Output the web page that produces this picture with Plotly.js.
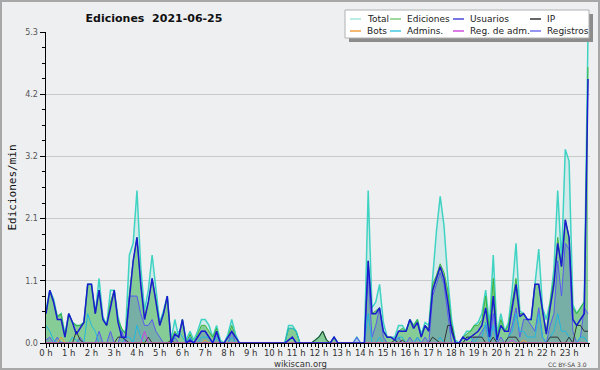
<!DOCTYPE html>
<html><head><meta charset="utf-8">
<script src="https://cdn.plot.ly/plotly-3.0.1.min.js"></script>
<style>html,body{margin:0;padding:0;background:#eeeff1;}#chart{width:600px;height:370px;}</style>
</head><body><div id="chart"></div>
<script>
// Edits per minute, one value per 10 minutes (6 per hour), 2021-06-25
const TITLE = 'Ediciones\u00a0\u00a02021-06-25';
const Y_TITLE = 'Ediciones/min';
const HOUR_LABELS = ['0 h','1 h','2 h','3 h','4 h','5 h','6 h','7 h','8 h','9 h','10 h','11 h','12 h','13 h','14 h','15 h','16 h','17 h','18 h','19 h','20 h','21 h','22 h','23 h'];
const Y_TICKS = [0, 1.06, 2.12, 3.18, 4.24, 5.3];
const Y_TICK_LABELS = ['0.0','1.1','2.1','3.2','4.2','5.3'];
const SERIES_NAMES = ['Total','Ediciones','Usuarios','IP','Bots','Admins.','Reg. de adm.','Registros'];

const total = [
 0.55,0.9,0.75,0.45,0.5,0.15,  0.5,0.35,0.3,0.3,0.35,1.0,  1.0,0.5,1.1,0.45,0.3,0.9,  0.9,0.45,0.2,0.2,1.5,1.7,
 2.6,1.3,0.55,0.9,1.5,0.95,  0.35,0.55,0.8,0.05,0.4,0.1,  0.4,0.05,0.2,0.05,0.2,0.4,  0.4,0.3,0.1,0.3,0.05,0,
 0.15,0.4,0.15,0,0,0,  0,0,0,0,0,0,  0,0,0,0,0.3,0.3,  0.2,0,0,0,0,0.05,
 0.1,0.2,0.05,0,0.1,0,  0,0,0,0,0.1,0,  0,2.6,0.6,0.7,1.0,0.35,  0.1,0.1,0.1,0.3,0.3,0.2,
 0.4,0.3,0.4,0.15,0.35,0.3,  1.1,1.9,2.5,2.0,1.1,0.4,  0.05,0,0.1,0.2,0.2,0.3,  0.35,0.5,0.9,0.3,1.5,0.15,
 0.5,0.2,0.35,0.9,1.7,0.55,  0.5,0.4,0.4,1.0,1.6,0.6,  0.4,0.7,1.25,2.6,1.4,3.3,  3.1,0.65,0.5,0.6,0.7,5.3];
const ediciones = [
 0.5,0.9,0.7,0.45,0.5,0.1,  0.5,0.35,0.3,0.3,0.35,1.0,  1.0,0.5,0.9,0.4,0.3,0.7,  0.9,0.4,0.25,0.15,0.85,1.4,
 1.8,1.0,0.45,0.7,1.1,0.75,  0.3,0.5,0.8,0.05,0.2,0.1,  0.4,0,0.15,0,0.15,0.3,  0.3,0.2,0.1,0.25,0,0,
 0.1,0.3,0.1,0,0,0,  0,0,0,0,0,0,  0,0,0,0,0.25,0.25,  0.2,0,0,0,0,0.05,
 0.1,0.2,0.05,0,0.1,0,  0,0,0,0,0,0,  0,1.4,0.5,0.55,0.6,0.2,  0.1,0.1,0.05,0.2,0.25,0.2,
 0.4,0.3,0.4,0.1,0.3,0.25,  1.0,1.15,1.35,1.2,0.9,0.3,  0,0,0.1,0.15,0.2,0.3,  0.3,0.4,0.8,0.2,1.1,0.1,
 0.4,0.2,0.3,0.7,1.1,0.5,  0.5,0.4,0.4,1.0,1.0,0.55,  0.2,0.7,1.1,1.8,1.3,2.1,  1.8,0.6,0.5,0.6,0.7,4.7];
const usuarios = [
 0.5,0.9,0.7,0.4,0.4,0.1,  0.5,0.35,0.15,0.25,0.35,1.0,  1.0,0.5,0.9,0.4,0.3,0.6,  0.9,0.35,0.1,0.1,0.8,1.4,
 1.8,1.0,0.4,0.7,1.1,0.7,  0.3,0.5,0.8,0,0.15,0.1,  0.4,0,0.05,0,0.1,0.2,  0.2,0.1,0,0.2,0,0,
 0.1,0.2,0.1,0,0,0,  0,0,0,0,0,0,  0,0,0,0,0.05,0.1,  0,0,0,0,0,0,
 0,0,0,0,0.1,0,  0,0,0,0,0,0,  0,1.4,0.5,0.5,0.6,0.2,  0.1,0.1,0.05,0.2,0.2,0.2,
 0.4,0.25,0.35,0.1,0.3,0.2,  0.9,1.1,1.3,1.1,0.7,0.2,  0,0,0.1,0.05,0.1,0.15,  0.2,0.3,0.6,0.1,0.8,0.05,
 0.3,0.2,0.2,0.6,1.0,0.45,  0.5,0.4,0.4,1.0,1.0,0.55,  0.15,0.6,1.0,1.7,1.3,2.1,  1.8,0.4,0.3,0.4,0.5,4.5];
const ip = [
 0,0,0,0,0,0,  0,0,0.2,0.05,0,0,  0,0,0,0,0,0,  0,0.1,0.1,0.05,0,0,
 0,0,0,0.1,0,0,  0,0,0,0.05,0,0,  0,0,0,0,0,0,  0,0,0,0,0,0,
 0,0,0,0,0,0,  0,0,0,0,0,0,  0,0,0,0,0,0,  0,0,0,0,0,0.05,
 0.1,0.2,0.05,0,0,0,  0,0,0,0,0,0,  0,0,0,0,0,0,  0,0,0.05,0,0.05,0,
 0,0,0,0,0,0,  0.1,0.05,0,0,0.3,0.3,  0,0,0,0.1,0.1,0.1,  0.1,0.1,0,0,0.1,0,
 0,0,0.1,0.1,0.1,0,  0,0,0,0,0,0,  0,0.1,0.1,0.1,0,0,  0.1,0,0.3,0.3,0.2,0.2];
const bots = [
 0,0,0,0,0.1,0,  0,0,0,0,0,0,  0,0,0,0,0,0,  0,0,0,0,0,0,
 0,0,0,0,0,0,  0,0,0,0,0,0,  0,0,0,0,0,0,  0.05,0,0,0,0,0,
 0,0,0,0,0,0,  0,0,0,0,0,0,  0,0,0,0,0,0,  0,0,0,0,0,0,
 0,0,0,0,0,0,  0,0,0,0,0,0,  0,0,0,0,0,0,  0,0,0,0,0,0,
 0,0,0,0,0,0,  0,0,0,0,0,0,  0,0,0,0,0,0,  0,0,0,0,0,0,
 0,0,0,0,0,0,  0.05,0,0,0,0,0,  0,0,0,0,0,0,  0,0,0,0,0,0];
const admins = [
 0.3,0.2,0.05,0,0,0,  0,0.1,0.05,0,0,0.5,  0.3,0.2,0,0,0,0,  0,0,0,0.1,0.1,0,
 0.3,0.1,0,0,0,0,  0,0,0,0,0.1,0.2,  0.1,0,0.1,0,0,0.1,  0.1,0.1,0,0.1,0,0,
 0,0.1,0,0,0,0,  0,0,0,0,0,0,  0,0,0,0,0.25,0.25,  0.2,0,0,0,0,0,
 0,0,0,0,0,0,  0,0,0,0,0,0,  0,0.5,0,0,0.1,0,  0,0,0,0.1,0.1,0,
 0,0,0.1,0,0,0,  0,0,0.1,0,0,0,  0,0,0,0.1,0.1,0,  0.1,0.1,0.35,0,0.3,0,
 0,0,0.1,0.2,0.5,0.2,  0.2,0.1,0.1,0.1,0.5,0.1,  0,0.1,0.2,0.5,0.2,0.2,  0.1,0,0,0.1,0.1,0];
const regAdm = [
 0,0,0,0,0,0,  0,0,0,0,0,0,  0,0,0,0,0,0,  0,0,0,0,0,0,
 0,0,0.2,0,0,0,  0,0,0,0,0,0,  0,0,0,0,0,0,  0,0,0,0,0,0,
 0,0,0,0,0,0,  0,0,0,0,0,0,  0,0,0,0,0,0,  0,0,0,0,0,0,
 0,0,0,0,0,0,  0,0,0,0,0,0,  0,0,0,0,0,0,  0,0,0,0,0,0,
 0,0,0,0,0,0,  0,0,0,0,0,0,  0,0,0,0,0,0,  0,0,0,0,0,0,
 0,0,0,0.05,0,0,  0,0,0,0,0,0,  0,0,0,0,0,0,  0,0,0,0,0,0];
const registros = [
 0.05,0.1,0,0.1,0,0,  0,0,0,0.1,0,0,  0,0,0.2,0,0,0.2,  0,0,0.2,0,0.8,0.8,
 0.8,0.5,0.3,0.3,0.4,0.2,  0.1,0,0,0,0.1,0,  0,0,0.1,0,0.1,0.2,  0.2,0.1,0,0.15,0,0,
 0,0.2,0,0,0,0,  0,0,0,0,0,0,  0,0,0,0,0,0,  0,0,0,0,0,0,
 0,0,0,0,0,0,  0,0,0,0,0.1,0,  0,1.2,0.1,0.3,0.6,0.1,  0,0,0,0.1,0,0,
 0.1,0,0.1,0,0.1,0,  0.8,1.0,1.2,1.0,0.5,0,  0,0,0,0,0,0.1,  0.1,0.2,0.3,0,0.5,0,
 0.1,0,0.1,0.3,0.6,0.1,  0.4,0.4,0.3,0.2,0.6,0.1,  0,0.3,0.5,1.4,0.8,1.7,  1.6,0.2,0,0.1,0.6,0.5];

// time axis: hours at 10-minute steps
const hours = [];
for (let i = 0; i < total.length; i++) hours.push(i / 6);

const LEGEND_COLORS = ['#a6e6de','#80cc80','#4848d8','#333333','#f0a040','#40c8e0','#d050e0','#7272f0'];

function tr(y, name, color, width, fill, fillcolor) {
  const t = {x: hours, y: y, name: name, type: 'scatter', mode: 'lines',
    line: {color: color, width: width}, showlegend: false, hoverinfo: 'skip'};
  if (fill) { t.fill = 'tozeroy'; t.fillcolor = fillcolor; }
  return t;
}
const data = [
  tr(total, SERIES_NAMES[0], '#3fd3c3', 1.5, true, 'rgba(64,208,192,0.15)'),
  tr(ediciones, SERIES_NAMES[1], '#3cb43c', 1, true, 'rgba(70,178,80,0.55)'),
  tr(registros, SERIES_NAMES[7], '#5a5af0', 1, true, 'rgba(70,70,220,0.22)'),
  tr(admins, SERIES_NAMES[5], '#20b8e0', 1, false),
  tr(ip, SERIES_NAMES[3], '#333333', 1, false),
  tr(bots, SERIES_NAMES[4], '#f0a030', 1, false),
  tr(regAdm, SERIES_NAMES[6], '#d040e0', 1, false),
  tr(usuarios, SERIES_NAMES[2], '#1a1ad0', 1.5, false)
];

// pixel -> paper helpers (plot area: x 46..590, y 32..343)
const L = 46, R = 590, T = 32, B = 343;
const px = v => (v - L) / (R - L);
const py = v => (B - v) / (B - T);

const shapes = [
  {type:'rect', xref:'paper', yref:'paper', x0:px(1), x1:px(599), y0:py(369), y1:py(1), line:{color:'#a8a8a8', width:2}, fillcolor:'rgba(0,0,0,0)', layer:'above'},
  {type:'rect', xref:'paper', yref:'paper', x0:px(349), x1:px(593), y0:py(42), y1:py(14), line:{width:0}, fillcolor:'#8c8c8c', layer:'above'},
  {type:'rect', xref:'paper', yref:'paper', x0:px(345), x1:px(589), y0:py(38), y1:py(10), line:{color:'#b0b0b0', width:1}, fillcolor:'#ffffff', layer:'above'}
];
const annotations = [
  {text:'wikiscan.org', xref:'paper', yref:'paper', x:px(300), y:py(364), showarrow:false, xanchor:'center', yanchor:'middle', font:{family:'DejaVu Sans', size:8.5, color:'#333'}},
  {text:'CC BY-SA 3.0', xref:'paper', yref:'paper', x:px(589), y:py(364.5), showarrow:false, xanchor:'right', yanchor:'middle', font:{family:'DejaVu Sans', size:6, color:'#444'}}
];
const colX = [350, 390, 453, 530];
const rowY = [19, 31];
SERIES_NAMES.forEach((n, k) => {
  const cx = colX[k % 4], cy = rowY[Math.floor(k / 4)];
  shapes.push({type:'line', xref:'paper', yref:'paper', x0:px(cx), x1:px(cx+11), y0:py(cy), y1:py(cy), line:{color:LEGEND_COLORS[k], width:1.5}, layer:'above'});
  annotations.push({text:n, xref:'paper', yref:'paper', x:px(cx+15), y:py(cy), showarrow:false, xanchor:'left', yanchor:'middle', font:{family:'DejaVu Sans', size:9, color:'#222'}});
});

const layout = {
  width: 600, height: 370,
  margin: {l: L, r: 600 - R, t: T, b: 370 - B},
  paper_bgcolor: '#eeeff1', plot_bgcolor: '#eeeff1',
  title: {text: TITLE, x: 154/600, xanchor: 'center', y: 1 - 18/370, yanchor: 'middle',
    font: {family: 'DejaVu Sans', size: 11, color: '#111', weight: 'bold'}},
  xaxis: {range: [0, 23.92], tickmode: 'array', tickvals: HOUR_LABELS.map((_, h) => h), ticktext: HOUR_LABELS,
    ticks: 'outside', ticklen: 4, tickcolor: '#000', showline: true, linecolor: '#000', linewidth: 1,
    ticklabelstandoff: -2,
    showgrid: false, zeroline: false, tickfont: {family: 'DejaVu Sans', size: 8.5, color: '#333'},
    minor: {dtick: 1/6, tick0: 0, ticks: 'outside', ticklen: 3, tickcolor: '#000', showgrid: false}},
  yaxis: {range: [0, 5.3], tickmode: 'array', tickvals: Y_TICKS, ticktext: Y_TICK_LABELS,
    ticks: 'outside', ticklen: 5, tickcolor: '#000', showline: true, linecolor: '#000', linewidth: 1.5,
    showgrid: true, gridcolor: '#c9c9c9', gridwidth: 1, zeroline: false,
    tickfont: {family: 'DejaVu Sans', size: 8, color: '#555'},
    minor: {dtick: 0.265, tick0: 0, ticks: 'outside', ticklen: 3, tickcolor: '#000', showgrid: false},
    title: {text: Y_TITLE, standoff: 6, font: {family: 'DejaVu Sans Mono', size: 11, color: '#111'}}},
  shapes: shapes, annotations: annotations, showlegend: false
};
Plotly.newPlot('chart', data, layout, {displayModeBar: false, staticPlot: true});
</script></body></html>
